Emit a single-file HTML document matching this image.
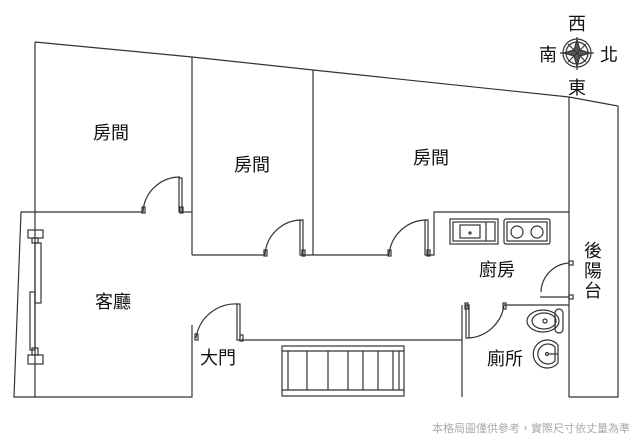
<!DOCTYPE html>
<html><head><meta charset="utf-8"><style>
html,body{margin:0;padding:0;background:#fff;}
svg{display:block;}
text{font-family:"Liberation Sans","Noto Sans CJK TC",sans-serif;fill:#111;}
</style></head><body>
<svg width="640" height="440" viewBox="0 0 640 440" xmlns="http://www.w3.org/2000/svg">
<rect width="640" height="440" fill="#fff"/>
<g stroke="#333" stroke-width="1.2" fill="none">
<polyline points="35,42 192,57 313,70 569,97 618,106 618,397 569,397"/>
<line x1="35" y1="42" x2="35" y2="397"/>
<line x1="569" y1="97" x2="569" y2="397"/>
<polyline points="143,212 21,212 14,397 192,397 192,325"/>
<line x1="182" y1="212" x2="192" y2="212"/>
<line x1="192" y1="57" x2="192" y2="255"/>
<line x1="192" y1="255" x2="265" y2="255"/>
<line x1="303" y1="255" x2="389" y2="255"/>
<line x1="313" y1="70" x2="313" y2="255"/>
<polyline points="428,255 434,255 434,212 569,212"/>
<line x1="241" y1="340" x2="462" y2="340"/>
<polyline points="462,305 462,397"/>
<line x1="504" y1="305" x2="569" y2="305"/>
<line x1="540" y1="297" x2="569" y2="297"/>
<path d="M143,212 A37,37 0 0 1 180,177"/>
<rect x="179" y="178" width="3" height="34"/>
<rect x="142" y="207" width="3" height="6"/><rect x="180" y="207" width="3" height="6"/>
<path d="M265,255 A37,37 0 0 1 302,220"/>
<rect x="300" y="220" width="3" height="35"/>
<rect x="264" y="250" width="3" height="6"/><rect x="302" y="250" width="3" height="6"/>
<path d="M389,255 A38,38 0 0 1 427,220"/>
<rect x="425" y="220" width="3" height="35"/>
<rect x="388" y="250" width="3" height="6"/><rect x="427" y="250" width="3" height="6"/>
<path d="M196,338 A40,40 0 0 1 238,304"/>
<rect x="237" y="304" width="3" height="36"/>
<rect x="195" y="334" width="3" height="6"/><rect x="240" y="335" width="3" height="6"/>
<path d="M468,338 A38,38 0 0 0 504,305"/>
<rect x="466" y="305" width="3" height="33"/>
<rect x="465" y="303" width="3" height="6"/><rect x="503" y="303" width="3" height="6"/>
<path d="M541,292 A30,30 0 0 1 569,263"/>
<rect x="569" y="261" width="4" height="4"/><rect x="569" y="295" width="4" height="4"/>
<rect x="28" y="230" width="15" height="8"/><rect x="32" y="238" width="6" height="5"/>
<rect x="28" y="355" width="15" height="9"/><rect x="32" y="348" width="6" height="7"/>
<rect x="35" y="243" width="6" height="60"/><rect x="30" y="292" width="5" height="58"/>
<rect x="282" y="346" width="122" height="50"/>
<line x1="282" y1="351" x2="404" y2="351"/><line x1="282" y1="390" x2="404" y2="390"/>
<line x1="288" y1="351" x2="288" y2="390"/><line x1="307" y1="351" x2="307" y2="390"/>
<line x1="328" y1="351" x2="328" y2="390"/><line x1="348" y1="351" x2="348" y2="390"/>
<line x1="363" y1="351" x2="363" y2="390"/><line x1="378" y1="351" x2="378" y2="390"/>
<line x1="393" y1="351" x2="393" y2="390"/><line x1="399" y1="351" x2="399" y2="390"/>
<rect x="450" y="219" width="48" height="25"/><rect x="453" y="222" width="42" height="19"/>
<rect x="460" y="225" width="20" height="13"/><line x1="486" y1="222" x2="486" y2="241"/>
<circle cx="470" cy="233" r="1"/>
<rect x="504" y="219" width="46" height="25" rx="2"/><rect x="507" y="222" width="40" height="19"/>
<circle cx="517" cy="232" r="6"/><circle cx="537" cy="232" r="6"/>
<ellipse cx="543" cy="321" rx="16" ry="11"/><ellipse cx="544" cy="321" rx="12" ry="8"/>
<rect x="555" y="309" width="8" height="24" rx="4"/><circle cx="545" cy="321" r="2"/>
<path d="M558,345 A14,14 0 1 0 558,363 Z"/><path d="M555,347 A10,10 0 1 0 555,361 Z"/>
<circle cx="547" cy="354" r="1.5"/><line x1="549" y1="354" x2="558" y2="354"/>
<circle cx="577" cy="53" r="14"/><circle cx="577" cy="53" r="11"/>
<line x1="577" y1="37" x2="577" y2="70"/><line x1="560" y1="53" x2="594" y2="53"/>
<path d="M577,40 L580,50 L590,53 L580,56 L577,66 L574,56 L564,53 L574,50 Z" fill="#555"/>
<path d="M568,44 L586,62 M586,44 L568,62"/>
</g>
<g font-size="18">
<text x="111" y="139" text-anchor="middle">房間</text>
<text x="252" y="171" text-anchor="middle">房間</text>
<text x="431" y="164" text-anchor="middle">房間</text>
<text x="113" y="308" text-anchor="middle">客廳</text>
<text x="218" y="364" text-anchor="middle">大門</text>
<text x="497" y="276" text-anchor="middle">廚房</text>
<text x="505" y="365" text-anchor="middle">廁所</text>
<text x="593" y="257" text-anchor="middle">後</text>
<text x="593" y="277" text-anchor="middle">陽</text>
<text x="593" y="297" text-anchor="middle">台</text>
<text x="577" y="30" text-anchor="middle">西</text>
<text x="548" y="61" text-anchor="middle">南</text>
<text x="609" y="61" text-anchor="middle">北</text>
<text x="577" y="94" text-anchor="middle">東</text>
</g>
<text x="630" y="432" text-anchor="end" font-size="11" style="fill:#aaa">本格局圖僅供參考，實際尺寸依丈量為準</text>
</svg>
</body></html>
